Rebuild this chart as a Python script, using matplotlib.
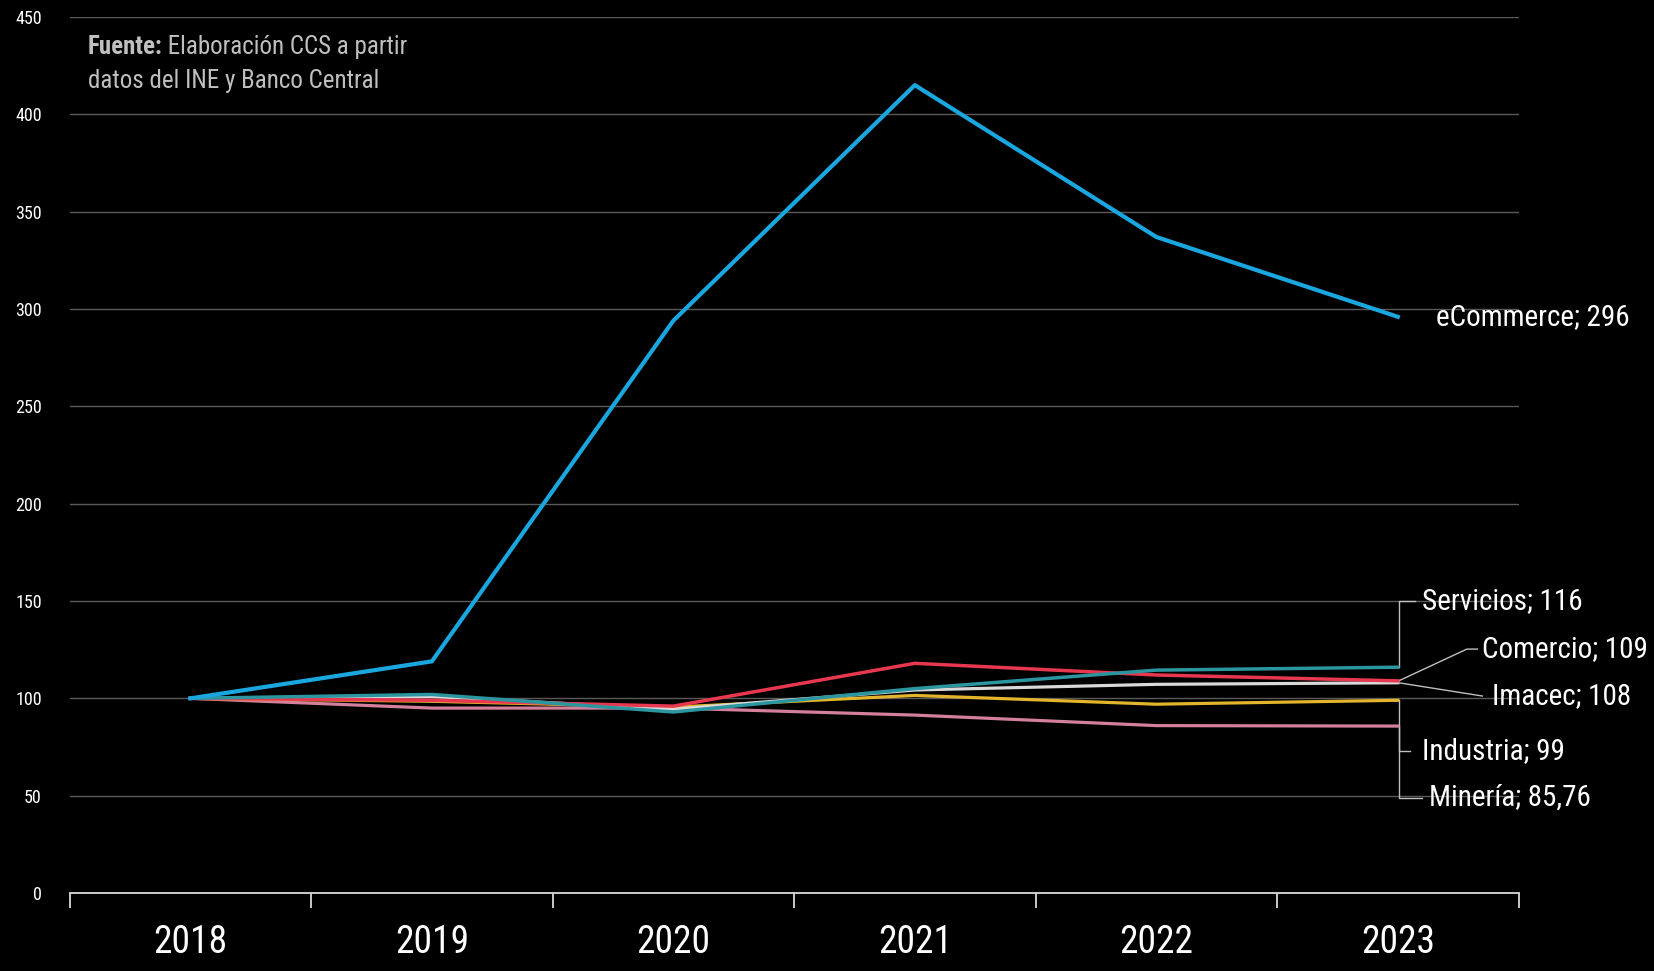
import matplotlib
matplotlib.use("Agg")
import matplotlib.pyplot as plt
from matplotlib import font_manager

years = ["2018", "2019", "2020", "2021", "2022", "2023"]
ecommerce = [100, 119, 294, 415, 337, 296]
servicios = [100, 102, 93, 105, 114.5, 116]
comercio = [100, 99, 96, 118, 112, 109]
imacec = [100, 101, 94.4, 104.3, 107.2, 108]
industria = [100, 98.5, 95.5, 101.5, 97, 99]
mineria = [100, 95, 95, 91.4, 86, 85.76]

# pick a condensed family if there is one
names = {f.name for f in font_manager.fontManager.ttflist}
fam = "DejaVu Sans"
for c in ["Roboto Condensed", "Liberation Sans Narrow", "DejaVu Sans Condensed", "Open Sans Condensed", "Roboto"]:
    if c in names:
        fam = c
        break
plt.rcParams["font.family"] = [fam, "DejaVu Sans"]

fig = plt.figure(figsize=(16.54, 9.71), dpi=100, facecolor="black")
ax = fig.add_axes([0.0421, 0.0803, 0.876, 0.9022])
ax.set_facecolor("black")

x = list(range(len(years)))
ax.plot(x, mineria, color="#d4809c", lw=2.3, zorder=3)
ax.plot(x, industria, color="#e3b52c", lw=2.3, zorder=3)
ax.plot(x, imacec, color="#d9d9d9", lw=2.3, zorder=3)
ax.plot(x, comercio, color="#e8384f", lw=2.5, zorder=3)
ax.plot(x, servicios, color="#2b96a0", lw=2.5, zorder=4)
ax.plot(x, ecommerce, color="#1aa7df", lw=3, zorder=5)

ax.set_xlim(-0.5, len(years) - 0.5)
ax.set_ylim(0, 450)
ax.set_yticks(range(0, 451, 50))
ax.grid(axis="y", color="#5a5a5a", lw=1)
ax.set_axisbelow(True)

ax.set_xticks([i - 0.5 for i in range(len(years) + 1)])
ax.set_xticklabels([])
ax.set_xticks(x, minor=True)
ax.set_xticklabels(years, minor=True)
ax.tick_params(axis="x", which="major", length=11, width=1.3, color="#d9d9d9", direction="out")
ax.tick_params(axis="x", which="minor", length=0, pad=22, labelsize=27, labelcolor="white")
ax.tick_params(axis="y", length=0, pad=20, labelsize=13, labelcolor="white")

for s in ["top", "right", "left"]:
    ax.spines[s].set_visible(False)
ax.spines["bottom"].set_color("#d9d9d9")
ax.spines["bottom"].set_linewidth(1.3)

lc = "#bfbfbf"
last = len(years) - 1
lbl = dict(color="white", fontsize=21, va="center", ha="left")

ax.text(last + 0.16, ecommerce[-1], "eCommerce; 296", **lbl)

ax.plot([last + 0.004, last + 0.004, last + 0.07], [servicios[-1], 150, 150], color=lc, lw=1, clip_on=False)
ax.text(last + 0.10, 150, "Servicios; 116", **lbl)

ax.plot([last + 0.004, last + 0.286, last + 0.33], [comercio[-1], 125.3, 125.3], color=lc, lw=1, clip_on=False)
ax.text(last + 0.35, 125.3, "Comercio; 109", **lbl)

ax.plot([last + 0.004, last + 0.35], [imacec[-1], 101.2], color=lc, lw=1, clip_on=False)
ax.text(last + 0.39, 101.2, "Imacec; 108", **lbl)

ax.plot([last + 0.004, last + 0.004, last + 0.05], [industria[-1], 73, 73], color=lc, lw=1, clip_on=False)
ax.text(last + 0.10, 73, "Industria; 99", **lbl)

ax.plot([last + 0.004, last + 0.004, last + 0.10], [mineria[-1], 49, 49], color=lc, lw=1, clip_on=False)
ax.text(last + 0.13, 49, "Minería; 85,76", **lbl)

src = ax.text(0.053, 0.952, "Fuente:", color=lc, fontsize=18, fontweight="bold", va="center",
              transform=fig.transFigure)
ax.annotate(" Elaboración CCS a partir", xy=(1, 0.5), xycoords=src, va="center", color=lc, fontsize=18)
ax.text(0.053, 0.917, "datos del INE y Banco Central", color=lc, fontsize=18, va="center",
        transform=fig.transFigure)

fig.savefig("out.png", dpi=100, facecolor="black")
